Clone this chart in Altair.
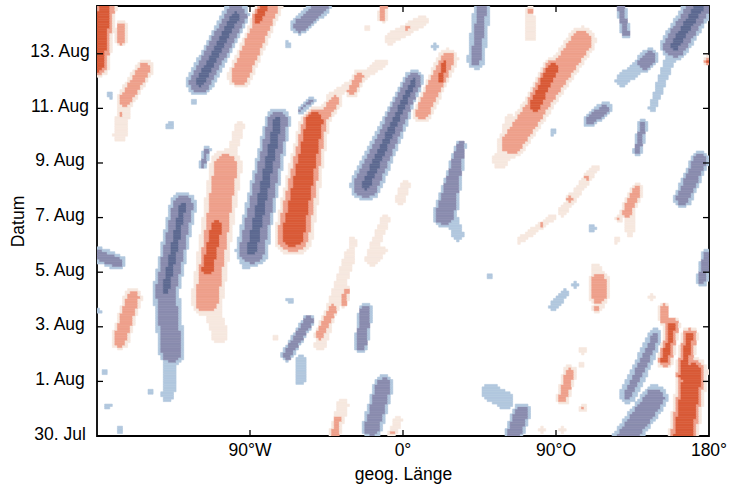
import json
import altair as alt
import numpy as np
import pandas as pd

# ---------------- axis definitions ----------------
X_TICKS = [-90, 0, 90, 180]
X_TICK_LABELS = ["90°W", "0°", "90°O", "180°"]
X_LABEL_SHIFT = [12, 4.5, 11, 4.5]          # px: keeps the number centred on the tick
Y_TICKS = [0, 2, 4, 6, 8, 10, 12, 14]       # days after 30 Jul 00 UTC
Y_TICK_LABELS = ["30. Jul", "1. Aug", "3. Aug", "5. Aug", "7. Aug",
                 "9. Aug", "11. Aug", "13. Aug"]
LON_RANGE = [-180, 180]
DAY_RANGE = [0, 15.75]

# ---------------- anomaly features ----------------
# (lon start, day start, lon end, day end, half-width start [deg], half-width end, amplitude)
BLUE_STREAKS = [
    (-129.4, 8.45, -139.4, 5.34, 7.6, 7.6, -3.015),
    (-139.4, 5.34, -135.9, 3.07, 7.6, 7.6, -2.8),
    (-135.9, 3.07, -138.2, 1.50, 4.7, 4.7, -1.5),
    (-73.5, 11.56, -88.8, 6.80, 7.1, 9.4, -3.03),
    (-90.0, 6.80, -91.8, 6.36, 4.7, 4.7, -1.5),
    (6.5, 13.02, -21.8, 9.18, 5.9, 8.8, -3.02),
    (34.1, 10.64, 24.7, 8.08, 2.9, 7.1, -2.9),
    (28.8, 7.97, 32.4, 7.35, 4.1, 4.1, -1.5),
    (-98.2, 15.40, -119.4, 12.95, 7.6, 7.6, -3.03),
    (174.7, 15.76, 160.0, 14.30, 8.2, 8.2, -3.03),
    (160.0, 14.30, 146.5, 11.99, 4.1, 2.4, -1.6),
    (145.3, 13.86, 142.3, 13.68, 5.3, 5.3, -2.7),
    (139.4, 13.57, 128.8, 13.02, 4.1, 4.1, -1.9),
    (174.7, 10.09, 164.7, 8.70, 5.3, 5.3, -2.6),
    (178.8, 6.62, 175.9, 5.70, 3.5, 3.5, -2.3),
    (-11.2, 1.86, -18.2, 0.29, 5.9, 5.9, -2.7),
    (148.2, 1.39, 130.6, -0.14, 7.6, 7.6, -2.7),
    (148.8, 3.62, 132.4, 1.50, 5.3, 5.3, -2.1),
    (51.2, 1.61, 60.0, 1.31, 5.9, 5.9, -1.7),
    (70.0, 0.88, 64.1, -0.14, 5.3, 5.3, -2.7),
    (-55.3, 4.24, -68.2, 2.96, 3.5, 3.5, -2.6),
    (-21.8, 4.61, -24.7, 3.33, 4.1, 4.1, -2.7),
    (-60.0, 2.78, -60.6, 2.05, 3.5, 3.5, -1.6),
    (-182.9, 6.73, -167.6, 6.36, 4.7, 4.7, -2.3),
    (118.8, 11.99, 110.0, 11.56, 4.1, 4.1, -2.4),
    (141.2, 11.44, 138.2, 10.46, 2.9, 2.9, -2.2),
    (128.2, 15.69, 131.2, 14.74, 2.9, 2.9, -2.3),
    (46.5, 15.65, 42.9, 13.75, 5.3, 5.3, -2.15),
    (-47.6, 15.76, -60.6, 15.03, 5.3, 5.3, -2.6),
    (95.3, 5.23, 88.2, 4.72, 2.9, 2.9, -1.5),
    (-54.1, 12.26, -59.4, 11.92, 2.9, 2.9, -2.3),
    (-115.3, 10.46, -117.6, 9.91, 2.4, 2.4, -2.2),
]

RED_STREAKS = [
    (-51.8, 11.56, -64.7, 7.35, 8.2, 11.2, 3.35),
    (-40.0, 12.29, -50.0, 11.37, 4.7, 4.7, 2.3),
    (-104.1, 9.91, -115.3, 4.97, 9.4, 9.4, 2.6),
    (-109.4, 7.72, -114.7, 6.14, 5.9, 5.9, 3.3),
    (-113.5, 4.97, -107.6, 3.69, 5.9, 5.9, 1.5),
    (-102.9, 9.91, -95.9, 11.37, 3.5, 3.5, 1.4),
    (64.1, 10.71, 105.3, 14.48, 8.2, 8.2, 2.7),
    (77.6, 12.11, 88.2, 13.46, 5.9, 5.9, 3.3),
    (57.1, 10.09, 64.1, 10.82, 5.9, 5.9, 1.4),
    (74.7, 15.28, 74.7, 14.66, 4.1, 4.1, 1.6),
    (-175.3, 15.76, -179.4, 13.57, 6.5, 6.5, 3.3),
    (-165.3, 15.03, -165.9, 14.48, 3.5, 3.5, 2.3),
    (-78.2, 15.76, -95.9, 13.20, 7.1, 7.1, 2.7),
    (-81.2, 15.76, -85.3, 15.28, 4.1, 4.1, 3.3),
    (26.5, 13.82, 11.2, 11.85, 5.9, 5.9, 2.6),
    (24.7, 13.64, 21.8, 13.02, 2.9, 2.9, 3.2),
    (-158.8, 5.08, -166.5, 3.51, 5.3, 5.3, 2.6),
    (-151.8, 13.46, -163.5, 12.29, 5.3, 5.3, 2.5),
    (-163.5, 12.29, -166.5, 11.01, 4.7, 4.7, 1.6),
    (170.6, 2.34, 164.1, -0.33, 8.2, 8.2, 3.6),
    (158.2, 4.06, 154.1, 2.78, 4.7, 4.7, 3.1),
    (168.8, 3.69, 164.7, 2.23, 4.7, 4.7, 3.1),
    (153.5, 4.72, 153.5, 4.24, 2.9, 2.9, 2.3),
    (115.3, 5.70, 115.3, 5.12, 5.9, 5.9, 2.5),
    (113.5, 6.14, 115.9, 4.79, 3.5, 3.5, 1.5),
    (137.6, 8.99, 131.8, 8.19, 4.1, 4.1, 2.4),
    (133.5, 8.19, 133.5, 7.46, 2.9, 2.9, 1.5),
    (112.9, 9.80, 93.5, 8.19, 2.9, 2.9, 1.5),
    (88.2, 8.01, 68.8, 7.17, 2.4, 2.4, 1.4),
    (-31.2, 6.62, -48.8, 3.33, 4.1, 4.1, 1.5),
    (-41.2, 4.68, -48.8, 3.69, 3.5, 3.5, 2.4),
    (-33.5, 5.34, -34.7, 4.86, 2.4, 2.4, 2.3),
    (-11.8, 6.80, -18.2, 6.36, 2.9, 2.9, 1.5),
    (-35.3, 1.13, -41.2, -0.14, 4.1, 4.1, 1.5),
    (-38.2, 0.65, -40.6, -0.14, 2.9, 2.9, 2.3),
    (-2.9, 0.58, -7.6, -0.14, 2.9, 2.9, 1.6),
    (98.2, 2.34, 94.1, 1.39, 4.1, 4.1, 2.3),
    (1.2, 9.18, -1.8, 8.63, 3.5, 3.5, 1.4),
    (-10.6, 7.90, -19.4, 6.51, 3.5, 3.5, 1.4),
    (-29.4, 7.17, -30.0, 6.51, 2.4, 2.4, 1.4),
    (62.9, 11.56, 58.8, 10.28, 4.1, 4.1, 1.4),
    (-25.3, 13.20, -30.0, 12.65, 4.1, 4.1, 2.2),
    (-14.7, 13.68, -18.2, 13.38, 2.9, 2.9, 1.4),
    (11.8, 15.21, -7.6, 14.55, 4.1, 4.1, 1.5),
    (-11.2, 15.76, -11.8, 15.33, 2.9, 2.9, 2.2),
    (-10.6, 13.68, -42.9, 12.40, 2.9, 2.9, 1.4),
]

# (lon, day, half-width [deg], amplitude)
BLUE_SPOTS = [
    (-175.3, 2.34, 2.4, -1.4), (-148.8, 1.61, 2.4, -1.4), (-173.5, 1.10, 2.4, -1.4),
    (-179.4, 4.58, 2.4, -1.4), (-166.5, 0.22, 2.4, -1.4), (88.2, 11.12, 2.4, -1.4),
    (-67.6, 14.34, 2.4, -1.4), (18.8, 14.26, 2.4, -1.4), (44.1, 13.68, 2.4, -1.4),
    (111.2, 7.60, 2.6, -1.5), (101.2, 5.52, 2.4, -1.3), (-172.3, 12.47, 2.4, -1.3),
    (-137.1, 11.37, 3.0, -1.4), (-123.5, 12.26, 2.4, -1.3), (-66.5, 4.97, 2.4, -1.4),
    (51.2, 5.82, 2.4, -1.3),
]
RED_SPOTS = [
    (74.7, 15.58, 2.4, 2.3), (-165.9, 11.81, 2.4, 2.2), (98.2, 8.70, 2.9, 2.3),
    (108.2, 9.47, 2.4, 2.2), (81.8, 7.72, 2.4, 2.3), (127.1, 7.97, 2.4, 2.05),
    (125.9, 7.17, 2.4, 1.4), (146.5, 5.08, 2.4, 1.4), (-75.3, 3.58, 2.4, 1.4),
    (-5.9, 0.15, 2.4, 2.2), (105.9, 3.14, 2.9, 1.4), (105.3, 2.59, 2.4, 1.4),
    (114.1, 4.68, 2.9, 2.1), (81.8, 0.22, 2.4, 1.4), (93.5, 0.22, 2.4, 1.4),
    (105.9, 1.02, 2.4, 2.1), (-20.6, 14.92, 2.4, 1.4), (2.9, 14.96, 2.4, 2.2),
    (180.0, 13.75, 2.9, 3.1),
]

LEVELS = ["n3", "n2", "n1", "p1", "p2", "p3"]
COLORS = ["#5d6991", "#8a8cae", "#b1c7de", "#f6e8df", "#eea08b", "#d95a37"]

# ---------------- build the gridded field ----------------
DAY_SCALE = 16.08      # degrees of longitude per day in picture proportions
LON_STEP, DAY_STEP = 1.5, 0.09
lon_c = np.arange(LON_RANGE[0] + LON_STEP / 2, LON_RANGE[1], LON_STEP)
day_c = np.arange(DAY_RANGE[0] + DAY_STEP / 2, DAY_RANGE[1], DAY_STEP)
LL, DD = np.meshgrid(lon_c, day_c)


def streak(a0, d0, a1, d1, w0, w1, amp):
    X, Y = LL, DD * DAY_SCALE
    x0, y0, x1, y1 = a0, d0 * DAY_SCALE, a1, d1 * DAY_SCALE
    vx, vy = x1 - x0, y1 - y0
    L2 = vx * vx + vy * vy
    if L2 == 0:
        t = np.zeros_like(X)
    else:
        t = np.clip(((X - x0) * vx + (Y - y0) * vy) / L2, 0, 1)
    dx = X - (x0 + t * vx)
    dy = Y - (y0 + t * vy)
    w = w0 + t * (w1 - w0)
    return amp * np.exp(-((dx * dx + dy * dy) / (w * w)) ** 2)


pos = np.zeros_like(LL)
neg = np.zeros_like(LL)
for f in BLUE_STREAKS:
    neg = np.minimum(neg, streak(*f))
for f in RED_STREAKS:
    pos = np.maximum(pos, streak(*f))
for (a, d, w, amp) in BLUE_SPOTS:
    neg = np.minimum(neg, streak(a, d, a, d, w, w, amp))
for (a, d, w, amp) in RED_SPOTS:
    pos = np.maximum(pos, streak(a, d, a, d, w, w, amp))
field = pos + neg

lev = (np.sign(field) * np.minimum(3, np.floor(np.abs(field)))).astype(int)
name = {-3: "n3", -2: "n2", -1: "n1", 1: "p1", 2: "p2", 3: "p3"}

rows = []
for j in range(lev.shape[0]):
    r = lev[j]
    i = 0
    n = len(r)
    while i < n:
        v = r[i]
        k = i
        while k + 1 < n and r[k + 1] == v:
            k += 1
        if v != 0:
            rows.append({
                "x0": float(lon_c[i] - LON_STEP / 2), "x1": float(lon_c[k] + LON_STEP / 2),
                "y0": round(float(day_c[j] - DAY_STEP / 2), 4),
                "y1": round(float(day_c[j] + DAY_STEP / 2), 4),
                "lev": name[int(v)],
            })
        i = k + 1
cells = pd.DataFrame(rows)

# ---------------- chart ----------------
FONT = "Liberation Sans"
FS = 17.5
xscale = alt.Scale(domain=LON_RANGE, nice=False, zero=False)
yscale = alt.Scale(domain=DAY_RANGE, nice=False, zero=False)
cscale = alt.Scale(domain=LEVELS, range=COLORS)
label_expr = json.dumps(Y_TICK_LABELS) + "[round(datum.value / 2)]"

X_AXIS = alt.Axis(labels=False, ticks=False, domain=False, grid=False,
                  title="geog. Länge", titleFont=FONT, titleFontSize=FS,
                  titleFontWeight="normal", titleColor="black", titlePadding=29)
Y_AXIS = alt.Axis(values=Y_TICKS, labelExpr=label_expr, ticks=False, domain=False,
                  grid=False, labelFont=FONT, labelFontSize=FS, labelColor="black",
                  labelAlign="center", labelPadding=37.5, labelOffset=-2,
                  title="Datum", titleFont=FONT, titleFontSize=FS,
                  titleFontWeight="normal", titleColor="black", titlePadding=2)

field_layer = alt.Chart(cells).mark_rect(clip=True, strokeWidth=0.6).encode(
    x=alt.X("x0:Q", scale=xscale, axis=X_AXIS, title="geog. Länge"),
    x2="x1:Q",
    y=alt.Y("y0:Q", scale=yscale, axis=Y_AXIS, title="Datum"),
    y2="y1:Q",
    color=alt.Color("lev:N", scale=cscale, legend=None),
    stroke=alt.Stroke("lev:N", scale=cscale, legend=None),
)

xlab_df = pd.DataFrame({"lon": X_TICKS, "label": X_TICK_LABELS, "off": X_LABEL_SHIFT})
x_labels = alt.Chart(xlab_df).mark_text(
    align="center", baseline="top", fontSize=FS, font=FONT, color="black"
).encode(
    x=alt.X("lon:Q", scale=xscale, axis=X_AXIS, title="geog. Länge"),
    xOffset=alt.XOffset("off:Q", scale=None),
    y=alt.value(436),
    text="label:N",
)

xt_df = pd.DataFrame({"lon": X_TICKS[:-1]})
yt_df = pd.DataFrame({"day": Y_TICKS})
tick_style = dict(color="black", strokeWidth=1.3)
bottom_ticks = alt.Chart(xt_df).mark_rule(**tick_style).encode(
    x=alt.X("lon:Q", scale=xscale, axis=X_AXIS, title="geog. Länge"),
    y=alt.value(430), y2=alt.value(424))
top_ticks = alt.Chart(xt_df).mark_rule(**tick_style).encode(
    x=alt.X("lon:Q", scale=xscale, axis=X_AXIS, title="geog. Länge"),
    y=alt.value(0), y2=alt.value(6))
left_ticks = alt.Chart(yt_df).mark_rule(**tick_style).encode(
    y=alt.Y("day:Q", scale=yscale, axis=Y_AXIS, title="Datum"),
    x=alt.value(0), x2=alt.value(6))
right_ticks = alt.Chart(yt_df).mark_rule(**tick_style).encode(
    y=alt.Y("day:Q", scale=yscale, axis=Y_AXIS, title="Datum"),
    x=alt.value(612), x2=alt.value(606))

chart = alt.layer(
    field_layer, x_labels, bottom_ticks, top_ticks, left_ticks, right_ticks
).properties(
    width=612, height=430,
    autosize=alt.AutoSizeParams(type="none"),
    padding={"left": 97, "top": 6, "right": 25, "bottom": 52},
    background="white",
).configure_view(stroke="black", strokeWidth=1.8)

chart.save("out.html", embed_options={"renderer": "svg", "actions": False})
